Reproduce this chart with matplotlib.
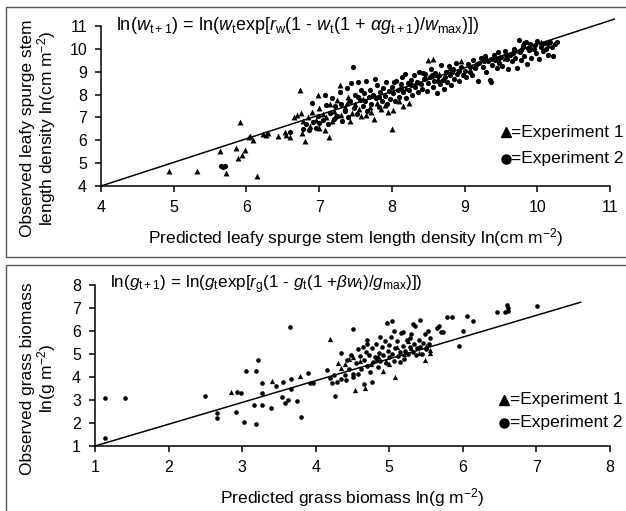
import numpy as np
import matplotlib
matplotlib.use("Agg")
import matplotlib.pyplot as plt
from matplotlib.patches import Rectangle

plt.rcParams["font.family"] = ["Liberation Sans", "DejaVu Sans"]
plt.rcParams["mathtext.fontset"] = "custom"
plt.rcParams["mathtext.rm"] = "Liberation Sans"
plt.rcParams["mathtext.it"] = "Liberation Sans:italic"
plt.rcParams["mathtext.sf"] = "Liberation Sans"

# --- leafy spurge panel: (predicted, observed) ---
spurge_exp1 = [
    (4.93, 4.65), (5.32, 4.67), (5.64, 5.54), (5.72, 4.58), (5.86, 5.65), (5.91, 6.78),
    (5.89, 5.24), (5.94, 5.35), (5.98, 5.57), (6.03, 6.15), (6.09, 6.0), (6.14, 4.45),
    (6.05, 6.2), (6.23, 6.27), (6.30, 6.30), (6.27, 6.22), (6.44, 6.18), (6.53, 6.37),
    (6.55, 6.23), (6.60, 6.15), (6.74, 8.22), (6.65, 7.03), (6.70, 7.10), (6.75, 7.20),
    (6.76, 6.30), (6.81, 5.98), (6.99, 7.97), (7.13, 6.15), (7.29, 8.41), (6.85, 7.0),
    (6.9, 7.25), (6.95, 6.9), (7.0, 7.4), (7.05, 7.15), (7.1, 7.0), (7.15, 7.6),
    (7.2, 7.3), (7.25, 7.75), (7.3, 7.1), (7.35, 7.45), (7.4, 7.9), (7.45, 7.2),
    (7.5, 7.6), (7.55, 7.35), (7.6, 7.8), (7.65, 7.1), (7.7, 7.45), (7.75, 6.95),
    (7.8, 7.65), (7.85, 7.35), (7.9, 7.55), (7.95, 7.25), (8.0, 6.49), (8.02, 7.32),
    (8.1, 7.7), (8.15, 7.5), (8.24, 7.61), (8.2, 8.3), (8.35, 8.55), (8.5, 9.5),
    (8.57, 9.55), (8.45, 8.8), (8.65, 8.9), (8.8, 9.15), (8.95, 9.45), (9.15, 9.3),
    (9.3, 9.65), (9.55, 9.6), (9.7, 9.95), (9.8, 10.25), (9.92, 10.05), (10.05, 10.3),
    (10.15, 10.15), (7.0, 6.55), (6.88, 6.62), (7.18, 6.85), (7.42, 6.85),
    (6.78, 6.85), (7.08, 6.45), (7.22, 7.05), (7.38, 7.65), (7.58, 7.05), (7.72, 7.25),
]
spurge_exp2 = [
    (5.65, 4.87), (5.68, 4.82), (5.7, 4.86),
    (6.6, 6.35), (6.78, 6.5), (6.82, 6.7), (6.86, 6.45), (6.9, 7.61), (6.92, 6.8),
    (6.95, 6.55), (6.98, 7.05), (7.0, 6.75),
    (7.05, 6.9), (7.08, 8.0), (7.1, 7.55), (7.12, 6.7), (7.15, 7.2), (7.18, 7.85),
    (7.2, 6.95), (7.22, 7.5), (7.25, 7.05), (7.28, 8.1), (7.3, 7.6), (7.32, 6.85),
    (7.35, 7.3), (7.38, 8.3), (7.4, 7.0), (7.42, 7.7), (7.44, 8.5), (7.46, 9.21),
    (7.48, 7.4), (7.5, 8.0), (7.52, 7.15), (7.54, 8.55), (7.56, 7.75), (7.58, 8.2),
    (7.6, 7.5), (7.62, 8.05), (7.64, 8.6), (7.66, 7.3), (7.68, 7.9), (7.7, 8.2),
    (7.72, 7.6), (7.74, 8.0), (7.77, 8.67), (7.78, 7.85), (7.8, 8.4), (7.82, 7.45),
    (7.84, 8.1), (7.86, 7.7), (7.88, 8.3), (7.9, 7.95), (7.92, 8.55), (7.94, 7.6),
    (7.96, 8.15), (7.98, 7.8),
    (8.0, 8.35), (8.02, 8.05), (8.04, 7.7), (8.06, 8.6), (8.08, 8.2), (8.1, 7.9),
    (8.12, 8.45), (8.14, 8.75), (8.16, 8.1), (8.18, 8.9), (8.2, 7.85), (8.22, 8.5),
    (8.24, 8.2), (8.26, 8.65), (8.28, 8.0), (8.3, 8.85), (8.32, 8.35), (8.34, 8.55),
    (8.36, 8.1), (8.38, 9.0), (8.4, 8.45), (8.42, 8.25), (8.44, 8.7), (8.46, 8.9),
    (8.48, 8.15), (8.5, 8.5),
    (8.52, 8.75), (8.54, 9.1), (8.56, 8.35), (8.58, 8.6), (8.6, 8.95), (8.62, 8.05),
    (8.64, 8.8), (8.66, 8.45), (8.68, 9.3), (8.7, 8.65), (8.72, 8.25), (8.74, 9.0),
    (8.76, 8.55), (8.78, 9.25), (8.8, 8.85), (8.82, 8.4), (8.84, 9.1), (8.86, 8.7),
    (8.88, 9.4), (8.9, 8.9), (8.92, 8.6), (8.95, 9.2), (8.98, 8.85),
    (9.0, 9.05), (9.02, 8.75), (9.05, 9.35), (9.08, 9.0), (9.1, 8.85), (9.12, 9.5),
    (9.15, 9.15), (9.18, 8.6), (9.2, 9.4), (9.22, 9.6), (9.25, 9.2), (9.28, 9.7),
    (9.3, 9.0), (9.32, 9.45), (9.35, 8.65), (9.36, 8.55), (9.38, 9.3), (9.4, 9.75),
    (9.42, 9.5), (9.44, 9.15), (9.46, 9.85), (9.48, 9.4),
    (9.5, 9.65), (9.52, 9.25), (9.55, 9.9), (9.58, 9.55), (9.6, 9.1), (9.62, 9.75),
    (9.65, 9.45), (9.68, 10.0), (9.7, 9.6), (9.72, 9.15), (9.75, 10.4), (9.76, 9.85),
    (9.78, 9.5), (9.8, 10.1), (9.82, 9.7), (9.85, 10.3), (9.86, 9.35), (9.88, 9.95),
    (9.9, 10.2), (9.92, 9.6), (9.95, 10.0), (9.98, 9.8), (10.0, 10.35), (10.02, 9.55),
    (10.05, 10.1), (10.08, 9.9), (10.1, 10.25), (10.12, 10.0), (10.15, 9.75),
    (10.18, 10.3), (10.2, 10.1), (10.22, 9.7), (10.25, 10.2), (10.27, 10.3),
    (8.03, 8.55), (8.13, 8.3), (8.27, 8.4), (8.43, 8.95), (8.55, 8.85), (8.63, 8.6),
    (8.73, 8.75), (8.83, 9.0), (8.93, 9.05), (9.07, 9.2), (9.17, 9.35), (9.27, 9.45),
    (9.37, 9.55), (9.47, 9.6), (9.57, 9.75), (9.67, 9.8), (9.77, 9.95), (9.87, 10.05),
    (9.97, 10.15), (10.07, 10.2), (7.53, 7.9), (7.63, 7.7), (7.73, 7.95), (7.83, 7.9),
]
spurge_fit = [(4.0, 4.0), (11.06, 11.3)]

# --- grass panel: (predicted, observed) ---
grass_exp1 = [
    (2.85, 3.33), (3.40, 3.83), (3.78, 4.04), (4.19, 5.65), (4.34, 4.4), (4.53, 3.43),
    (4.67, 3.51), (4.92, 4.26), (5.08, 4.01), (5.55, 5.17), (5.48, 4.74), (4.5, 4.85),
    (4.6, 4.7), (4.75, 4.55), (4.85, 4.9), (5.0, 4.55), (5.2, 5.0), (5.3, 5.25),
    (5.4, 5.05), (5.5, 5.35), (5.55, 5.05), (4.4, 4.55), (4.45, 4.8), (5.1, 5.3),
    (5.25, 5.55), (4.95, 4.7), (4.3, 4.6),
]
grass_exp2 = [
    (1.14, 3.10), (1.41, 3.10), (1.14, 1.33), (2.49, 3.19), (2.66, 2.45), (2.66, 2.2),
    (2.93, 3.36), (2.99, 3.29), (2.92, 2.46), (3.03, 2.03), (3.05, 4.26), (3.19, 4.26),
    (3.21, 4.74), (3.16, 2.78), (3.27, 2.78), (3.19, 1.96), (3.27, 3.72), (3.27, 3.29),
    (3.39, 2.64), (3.46, 3.61), (3.56, 3.77), (3.54, 3.14), (3.58, 2.86), (3.63, 3.0),
    (3.67, 3.90), (3.67, 3.46), (3.65, 6.19), (3.75, 2.97), (3.80, 2.27), (3.90, 4.19),
    (3.92, 3.72), (3.96, 3.75), (4.16, 4.30), (4.19, 3.94), (4.22, 3.72), (4.26, 3.17),
    (4.29, 3.80), (4.34, 5.03), (4.41, 3.87), (4.50, 6.07), (4.51, 4.0), (4.65, 3.7),
    (4.70, 5.42), (4.83, 4.74), (4.76, 3.80), (5.04, 6.43), (5.42, 6.48), (5.85, 6.60),
    (5.73, 5.97), (5.68, 6.2), (6.0, 6.0), (6.05, 6.66), (6.14, 6.44), (5.95, 5.34),
    (6.46, 6.84), (6.57, 6.84), (6.6, 7.13), (6.62, 6.99), (6.62, 6.88), (7.01, 7.07),
    (5.78, 6.59), (5.65, 6.15), (5.7, 5.96),
    (4.55, 4.6), (4.6, 4.9), (4.62, 4.35), (4.65, 4.75), (4.68, 5.1), (4.7, 4.5),
    (4.72, 4.95), (4.74, 4.2), (4.76, 5.25), (4.78, 4.65), (4.8, 4.85), (4.82, 5.45),
    (4.84, 4.45), (4.86, 5.05), (4.88, 4.7), (4.9, 5.3), (4.92, 4.95), (4.94, 5.55),
    (4.96, 4.6), (4.98, 5.15), (5.0, 4.85), (5.0, 5.4), (5.02, 5.75), (5.04, 5.0),
    (5.06, 4.7), (5.08, 5.25), (5.1, 5.55), (5.12, 4.9), (5.14, 5.1), (5.16, 5.9),
    (5.18, 5.35), (5.2, 4.8), (5.22, 5.15), (5.24, 5.6), (5.26, 5.0), (5.28, 5.3),
    (5.3, 5.85), (5.32, 5.1), (5.34, 5.45), (5.36, 4.95), (5.38, 5.25), (5.4, 5.6),
    (5.42, 5.3), (5.44, 5.0), (5.46, 5.5), (5.48, 5.85), (5.5, 5.2), (5.52, 6.0),
    (5.54, 5.45), (5.56, 5.7), (4.58, 4.15), (4.64, 5.3), (4.88, 5.75), (5.06, 6.0),
    (5.14, 4.65), (5.35, 6.2), (5.28, 5.7), (5.18, 5.95), (4.4, 4.1), (4.45, 4.35),
    (4.5, 4.15), (4.35, 3.9), (4.25, 4.1), (4.42, 4.75), (4.48, 4.95), (4.57, 5.2),
    (4.7, 5.6), (4.97, 6.35), (5.32, 6.3),
]
grass_fit = [(1.0, 1.0), (7.6, 7.25)]

spurge_eq = (r"ln($\mathit{w}_{\mathrm{t+1}}$) = ln($\mathit{w}_{\mathrm{t}}$exp[$\mathit{r}_{\mathrm{w}}$"
             r"(1 - $\mathit{w}_{\mathrm{t}}$(1 + $\alpha\mathit{g}_{\mathrm{t+1}}$)/$\mathit{w}_{\mathrm{max}}$)])")
grass_eq = (r"ln($\mathit{g}_{\mathrm{t+1}}$) = ln($\mathit{g}_{\mathrm{t}}$exp[$\mathit{r}_{\mathrm{g}}$"
            r"(1 - $\mathit{g}_{\mathrm{t}}$(1 +$\beta\mathit{w}_{\mathrm{t}}$)/$\mathit{g}_{\mathrm{max}}$)])")


def draw_panel(ax, exp1, exp2, fit, lim, eq, eq_size, xlabel, ylabel, ms, ylab_pos, leg_y):
    e1 = np.array(exp1)
    e2 = np.array(exp2)
    f = np.array(fit)
    ax.scatter(e2[:, 0], e2[:, 1], marker="o", s=ms, c="black", linewidths=0, zorder=3)
    ax.scatter(e1[:, 0], e1[:, 1], marker="^", s=ms * 1.3, c="black", linewidths=0, zorder=3)
    ax.plot(f[:, 0], f[:, 1], c="black", lw=1.1, clip_on=False, zorder=2)
    ax.set_xlim(lim)
    ax.set_ylim(lim)
    ticks = np.arange(lim[0], lim[1] + 1)
    ax.set_xticks(ticks)
    ax.set_yticks(ticks)
    for s in ["top", "right"]:
        ax.spines[s].set_visible(False)
    for s in ["left", "bottom"]:
        ax.spines[s].set_linewidth(1.1)
    ax.tick_params(direction="out", length=4, width=1.1, labelsize=11.5, pad=6)
    ax.set_xlabel(xlabel, fontsize=12.5, labelpad=8)
    ax.set_ylabel(ylabel, fontsize=12.5, linespacing=1.0)
    ax.yaxis.set_label_coords(*ylab_pos)
    ax.text(0.03, 1.0, eq, transform=ax.transAxes, fontsize=eq_size, va="center", ha="left")
    # legend drawn as marker + text
    for (m, lab, yy) in [("^", "=Experiment 1", leg_y[0]), ("o", "=Experiment 2", leg_y[1])]:
        ax.plot([0.795], [yy], marker=m, ms=6.5, c="black", ls="none",
                transform=ax.transAxes, clip_on=False)
        ax.text(0.805, yy, lab, transform=ax.transAxes, fontsize=12.5, va="center", ha="left")


fig = plt.figure(figsize=(6.26, 5.11), dpi=100)

# panel frames
fig.add_artist(Rectangle((6 / 626, 1 - 257 / 511), 1.0, (257 - 7) / 511, transform=fig.transFigure,
                         fill=False, ec="#555555", lw=1.0))
fig.add_artist(Rectangle((6 / 626, -0.05), 1.0, 1 - 265 / 511 + 0.05, transform=fig.transFigure,
                         fill=False, ec="#555555", lw=1.0))

ax1 = fig.add_axes([101 / 626, 1 - 186 / 511, 509 / 626, 160 / 511])
draw_panel(ax1, spurge_exp1, spurge_exp2, spurge_fit, (4, 11), spurge_eq, 13,
           r"Predicted leafy spurge stem length density ln(cm m$^{-2}$)",
           "Observed leafy spurge stem\n" + r"length density ln(cm m$^{-2}$)",
           14, (-0.085, 0.36), (0.3375, 0.169))

ax2 = fig.add_axes([95 / 626, 1 - 446 / 511, 515 / 626, 161 / 511])
draw_panel(ax2, grass_exp1, grass_exp2, grass_fit, (1, 8), grass_eq, 12.3,
           r"Predicted grass biomass ln(g m$^{-2}$)",
           "Observed grass biomass\n" + r"ln(g m$^{-2}$)",
           11, (-0.072, 0.42), (0.286, 0.143))

fig.savefig("out.png", dpi=100)
